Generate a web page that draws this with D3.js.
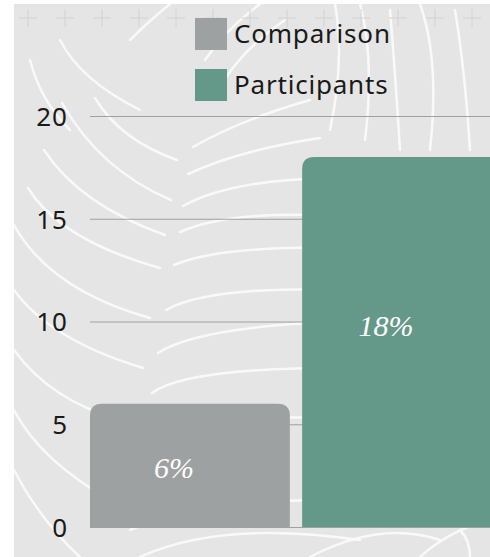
<!DOCTYPE html>
<html>
<head>
<meta charset="utf-8">
<script src="https://cdn.jsdelivr.net/npm/d3@7"></script>
<style>
  body { margin: 0; background: #fff; }
  svg { display: block; }
</style>
</head>
<body>
<div id="chart"></div>
<script>
// data
const groups = ["Comparison", "Participants"];
const values = [6, 18];
const labels = ["6%", "18%"];
const colors = ["#9ea1a1", "#649888"];
const yTicks = [0, 5, 10, 15, 20];

const width = 490;
const height = 557;
const margin = { top: 116, right: -12, bottom: 30, left: 90 };

const svg = d3.select("#chart")
  .append("svg")
  .attr("width", width)
  .attr("height", height);

// grey panel with white brush strokes
const bg = svg.append("g");
bg.append("rect")
  .attr("x", 14).attr("y", 4)
  .attr("width", width - 14).attr("height", height - 4)
  .attr("fill", "#e5e5e5");

svg.append("clipPath").attr("id", "panel")
  .append("rect").attr("x", 14).attr("y", 4).attr("width", width - 14).attr("height", height - 4);

const strokes = bg.append("g").attr("clip-path", "url(#panel)")
  .attr("fill", "none").attr("stroke", "#fff").attr("stroke-width", 2.5)
  .attr("stroke-linecap", "round").attr("opacity", 0.8);

// leaf-like texture: quadratic curves [x0, y0, cx, cy, x1, y1]
const texture = [
  // left side of the leaf, sweeping down to the rib
  [95, 98, 120, 140, 177, 160], [62, 103, 100, 170, 171, 200], [44, 150, 80, 205, 165, 235],
  [28, 188, 60, 240, 160, 268], [14, 225, 50, 290, 150, 318], [14, 290, 50, 340, 143, 368],
  [14, 350, 50, 400, 120, 420], [14, 410, 40, 460, 110, 500], [14, 470, 40, 520, 80, 557],
  [60, 40, 80, 80, 140, 110], [30, 60, 40, 100, 70, 130],
  // right side of the leaf, fanning out from the rib
  [193, 147, 240, 120, 310, 100], [188, 174, 240, 150, 320, 138], [183, 206, 230, 180, 330, 178],
  [180, 232, 230, 210, 340, 216], [174, 265, 220, 245, 350, 248], [166, 310, 210, 285, 360, 290],
  [158, 353, 200, 325, 370, 320], [152, 393, 190, 365, 380, 368], [140, 440, 200, 410, 380, 420],
  [130, 530, 200, 500, 330, 500], [140, 557, 220, 520, 360, 540],
  // upper right, near-vertical strokes
  [335, 4, 345, 60, 330, 130], [360, 4, 375, 60, 365, 140], [390, 10, 395, 70, 400, 150],
  [420, 4, 440, 60, 430, 150], [455, 10, 465, 70, 470, 150], [285, 20, 240, 50, 215, 95],
  [260, 4, 225, 30, 205, 60], [170, 4, 150, 20, 130, 40],
  // bottom right
  [310, 557, 380, 520, 440, 540], [420, 557, 450, 530, 490, 520], [470, 557, 470, 540, 460, 530]
];
texture.forEach(t => {
  strokes.append("path")
    .attr("d", `M${t[0]},${t[1]}Q${t[2]},${t[3]} ${t[4]},${t[5]}`);
});

// faint plus marks along the top
const plus = bg.append("g").attr("stroke", "#d2d2d2").attr("stroke-width", 1);
d3.range(28, width, 37).forEach(x => {
  plus.append("line").attr("x1", x - 9).attr("x2", x + 9).attr("y1", 18).attr("y2", 18);
  plus.append("line").attr("x1", x).attr("x2", x).attr("y1", 9).attr("y2", 27);
});

// scales
const y = d3.scaleLinear()
  .domain([0, 20])
  .range([height - margin.bottom, margin.top]);

const x = d3.scaleBand()
  .domain(groups)
  .range([margin.left, width - margin.right])
  .paddingInner(0.058);

// gridlines + tick labels
const yAxis = svg.append("g")
  .attr("transform", `translate(${margin.left},0)`)
  .call(d3.axisLeft(y).tickValues(yTicks).tickSize(-(width - margin.left)).tickPadding(22));
yAxis.select(".domain").remove();
yAxis.selectAll(".tick line").attr("stroke", "#a0a0a0").attr("stroke-width", 1);
yAxis.selectAll(".tick text")
  .attr("fill", "#1a1a1a")
  .attr("dy", "0.36em")
  .style("font-family", "'Noto Sans', sans-serif")
  .style("font-size", "26px")
  .style("letter-spacing", "1px");

// bars, rounded top corners only
function barPath(x0, y0, w, h, r) {
  return `M${x0},${y0 + h}V${y0 + r}Q${x0},${y0} ${x0 + r},${y0}H${x0 + w - r}Q${x0 + w},${y0} ${x0 + w},${y0 + r}V${y0 + h}Z`;
}

const data = groups.map((g, i) => ({ group: g, value: values[i], label: labels[i], color: colors[i] }));

svg.selectAll(".bar")
  .data(data)
  .join("path")
  .attr("class", "bar")
  .attr("fill", d => d.color)
  .attr("d", d => barPath(x(d.group), y(d.value), x.bandwidth(), y(0) - y(d.value), 12));

// value labels: centre of the bar, but no lower than mid-axis for tall bars
svg.selectAll(".val")
  .data(data)
  .join("text")
  .attr("class", "val")
  .attr("x", d => x(d.group) + x.bandwidth() / 2 - 16)
  .attr("y", d => d.value > 10 ? y(10) + 4 : (y(d.value) + y(0)) / 2 + 2)
  .attr("dy", "0.35em")
  .attr("text-anchor", "middle")
  .attr("fill", "#fff")
  .style("font-family", "'Liberation Serif', serif")
  .style("font-style", "italic")
  .style("font-size", "30px")
  .text(d => d.label);

// legend
const legend = svg.append("g").attr("transform", "translate(195,18)");
data.forEach((d, i) => {
  const row = legend.append("g").attr("transform", `translate(0,${i * 51})`);
  row.append("rect").attr("width", 32).attr("height", 32).attr("fill", d.color);
  row.append("text")
    .attr("x", 39).attr("y", 16).attr("dy", "0.35em")
    .attr("fill", "#1a1a1a")
    .style("font-family", "'Noto Sans', sans-serif")
    .style("font-size", "26px")
    .style("letter-spacing", "0.8px")
    .text(d.group);
});
</script>
</body>
</html>
